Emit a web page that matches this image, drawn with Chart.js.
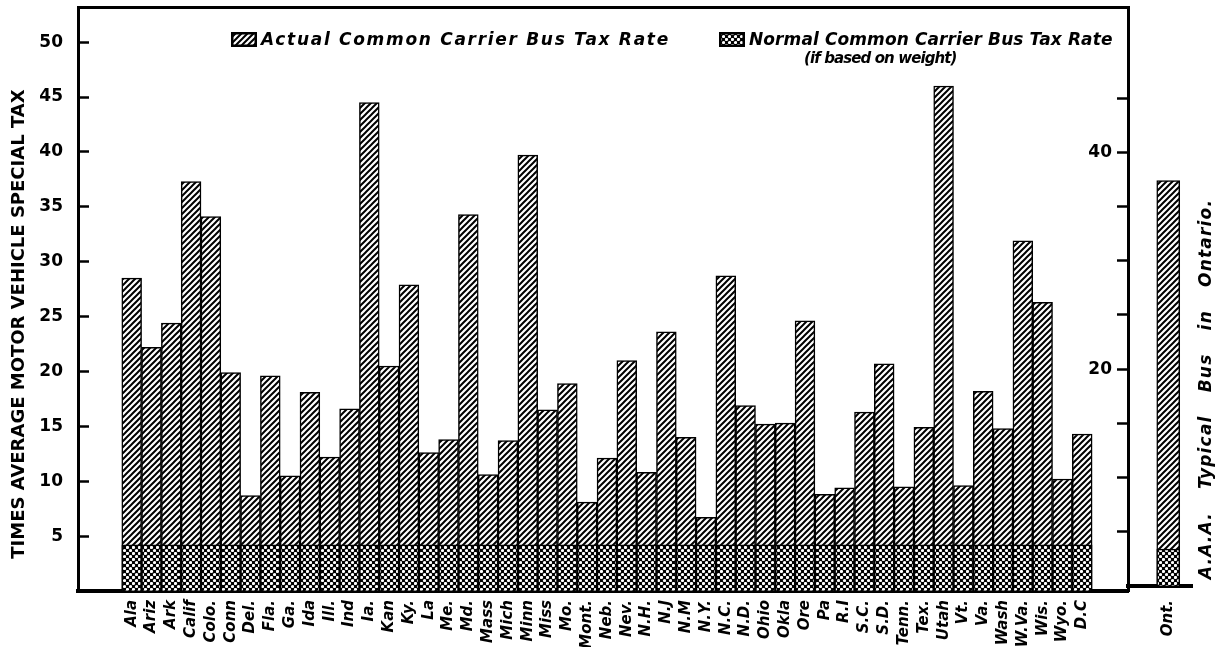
<!DOCTYPE html>
<html>
<head>
<meta charset="utf-8">
<title>Common Carrier Bus Tax Rates</title>
<script src="https://cdn.jsdelivr.net/npm/chart.js@4.4.1/dist/chart.umd.min.js"></script>
<style>
  html, body { margin: 0; padding: 0; background: #fff; }
  #wrap { position: relative; width: 1221px; height: 647px; overflow: hidden; }
  #mainChart { position: absolute; left: 0; top: 0; }
  #ontChart { position: absolute; left: 1060px; top: 0; }
  .legend-item { position: absolute; top: 29px; display: flex; align-items: flex-start;
                 font: italic bold 17px 'DejaVu Sans'; color: #000; white-space: nowrap; }
  .legend-item:nth-child(1) { left: 231px; letter-spacing: 1.7px; }
  .legend-item:nth-child(2) { left: 719px; letter-spacing: 0.1px; }
  .legend-item canvas { margin: 3px 4px 0 0; }
  .legend-note { display: block; margin-left: 55px; line-height: 18px;
                 font-size: 15px; letter-spacing: -0.9px; }
  #ontNote { position: absolute; left: 1006px; top: 378px; width: 400px; height: 22px;
             line-height: 22px; text-align: center; transform: rotate(-90deg);
             font: italic bold 17px 'DejaVu Sans'; letter-spacing: 1.2px; word-spacing: 16px; color: #000; }
</style>
</head>
<body>
<div id="wrap">
  <canvas id="mainChart" width="1221" height="647"></canvas>
  <canvas id="ontChart" width="161" height="647"></canvas>
  <div id="legend"></div>
  <div id="ontNote">A.A.A. Typical Bus in Ontario.</div>
</div>
<script>
// States, in the order they stand along the axis
const states = ['Ala', 'Ariz', 'Ark', 'Calif', 'Colo.', 'Conn', 'Del.', 'Fla.', 'Ga.', 'Ida', 'Ill.',
    'Ind', 'Ia.', 'Kan', 'Ky.', 'La', 'Me.', 'Md.', 'Mass', 'Mich', 'Minn', 'Miss', 'Mo.', 'Mont.',
    'Neb.', 'Nev.', 'N.H.', 'N.J', 'N.M', 'N.Y.', 'N.C.', 'N.D.', 'Ohio', 'Okla', 'Ore', 'Pa', 'R.I',
    'S.C.', 'S.D.', 'Tenn.', 'Tex.', 'Utah', 'Vt.', 'Va.', 'Wash', 'W.Va.', 'Wis.', 'Wyo.', 'D.C'];

// Times average motor vehicle special tax
const actualRate = [28.5, 22.2, 24.4, 37.3, 34.1, 19.9, 8.7, 19.6, 10.5, 18.1, 12.2,
    16.6, 44.5, 20.5, 27.9, 12.6, 13.8, 34.3, 10.6, 13.7, 39.7, 16.5, 18.9, 8.1,
    12.1, 21.0, 10.8, 23.6, 14.0, 6.7, 28.7, 16.9, 15.2, 15.3, 24.6, 8.8, 9.4,
    16.3, 20.7, 9.5, 14.9, 46.0, 9.6, 18.2, 14.8, 31.9, 26.3, 10.2, 14.3];

const normalRate = [4.2, 4.2, 4.2, 4.2, 4.2, 4.2, 4.2, 4.2, 4.2, 4.2, 4.2,
    4.2, 4.2, 4.2, 4.2, 4.2, 4.2, 4.2, 4.2, 4.2, 4.2, 4.2, 4.2, 4.2,
    4.2, 4.2, 4.2, 4.2, 4.2, 4.2, 4.2, 4.2, 4.2, 4.2, 4.2, 4.2, 4.2,
    4.2, 4.2, 4.2, 4.2, 4.2, 4.2, 4.2, 4.2, 4.2, 4.2, 4.2, 4.2];

// Ontario, on its own scale
const ontLabels = ['Ont.'];
const ontActual = [37.4];
const ontNormal = [3.4];

const leftTickLabels = [5, 10, 15, 20, 25, 30, 35, 40, 45, 50];
const rightTickLabels = [20, 40];
const rightTickMarks = [5, 10, 15, 20, 25, 30, 35, 40, 45];

const legendNotes = ['', '(if based on weight)'];

const BLACK = '#000';
const LABEL_FONT = { family: 'DejaVu Sans', size: 15, weight: 'bold', style: 'italic' };
const NUMBER_FONT = { family: 'DejaVu Sans', size: 17, weight: 'bold' };

// Hatch patterns
function makePattern(draw, size) {
    const c = document.createElement('canvas');
    c.width = size;
    c.height = size;
    draw(c.getContext('2d'), size);
    return c.getContext('2d').createPattern(c, 'repeat');
}

const diagonalHatch = makePattern((g, s) => {
    g.fillStyle = '#fff';
    g.fillRect(0, 0, s, s);
    g.strokeStyle = BLACK;
    g.lineWidth = 2;
    g.beginPath();
    g.moveTo(-1, s + 1); g.lineTo(s + 1, -1);
    g.moveTo(-1, 1); g.lineTo(1, -1);
    g.moveTo(s - 1, s + 1); g.lineTo(s + 1, s - 1);
    g.stroke();
}, 6);

const crossHatch = makePattern((g, s) => {
    g.fillStyle = BLACK;
    g.fillRect(0, 0, s, s);
    g.fillStyle = '#fff';
    [[1.5, 1.5], [4.5, 4.5]].forEach(([x, y]) => {
        g.beginPath();
        g.arc(x, y, 1.6, 0, Math.PI * 2);
        g.fill();
    });
}, 6);

// Axes keep the sizes given here; no extra padding for their labels
const fixSize = (width, height) => axis => {
    if (width !== null) axis.width = width;
    if (height !== null) axis.height = height;
    axis.paddingTop = 0;
    axis.paddingBottom = 0;
    axis.paddingLeft = 0;
    axis.paddingRight = 0;
};

// Legend built as html, from the chart's own legend items
const htmlLegendPlugin = {
    id: 'htmlLegend',
    afterUpdate(chart, args, options) {
        const box = document.getElementById(options.containerID);
        box.innerHTML = '';
        const items = chart.options.plugins.legend.labels.generateLabels(chart)
            .sort((a, b) => a.datasetIndex - b.datasetIndex);
        items.forEach((item, i) => {
            const el = document.createElement('div');
            el.className = 'legend-item';
            const sw = document.createElement('canvas');
            sw.width = 26;
            sw.height = 15;
            const g = sw.getContext('2d');
            g.fillStyle = item.fillStyle;
            g.fillRect(0, 0, 26, 15);
            g.strokeStyle = BLACK;
            g.lineWidth = 2.5;
            g.strokeRect(1.25, 1.25, 23.5, 12.5);
            el.appendChild(sw);
            const txt = document.createElement('span');
            txt.textContent = item.text;
            if (legendNotes[i]) {
                const note = document.createElement('span');
                note.className = 'legend-note';
                note.textContent = legendNotes[i];
                txt.appendChild(note);
            }
            el.appendChild(txt);
            box.appendChild(el);
        });
    }
};

const toPoints = values => values.map((v, i) => ({ x: i, y: v }));

new Chart(document.getElementById('mainChart'), {
    type: 'bar',
    data: {
        datasets: [{
            label: 'Actual Common Carrier Bus Tax Rate',
            data: toPoints(actualRate),
            backgroundColor: diagonalHatch,
            borderColor: BLACK,
            borderWidth: 1.5,
            barPercentage: 1,
            categoryPercentage: 1,
            grouped: false,
            order: 2,
            xAxisID: 'x',
            yAxisID: 'y'
        }, {
            label: 'Normal Common Carrier Bus Tax Rate',
            data: toPoints(normalRate),
            backgroundColor: crossHatch,
            borderColor: BLACK,
            borderWidth: 1.5,
            barPercentage: 1,
            categoryPercentage: 1,
            grouped: false,
            order: 1,
            xAxisID: 'x',
            yAxisID: 'y'
        }]
    },
    options: {
        responsive: false,
        animation: false,
        layout: { padding: { left: 0, right: 93, top: 7, bottom: 0 } },
        plugins: {
            legend: { display: false },
            tooltip: { enabled: false },
            htmlLegend: { containerID: 'legend' }
        },
        scales: {
            x: {
                type: 'linear',
                min: -2.17,
                max: 49.77,
                afterBuildTicks: axis => { axis.ticks = states.map((_, i) => ({ value: i })); },
                afterFit: fixSize(null, 56),
                grid: { display: false, drawTicks: false },
                border: { color: BLACK, width: 4 },
                ticks: {
                    autoSkip: false,
                    minRotation: 90,
                    maxRotation: 90,
                    padding: 9,
                    color: BLACK,
                    font: LABEL_FONT,
                    callback: v => states[v] ?? ''
                }
            },
            xTop: {
                type: 'linear',
                position: 'top',
                display: true,
                min: 0,
                max: 1,
                afterFit: fixSize(null, 0),
                grid: { display: false, drawTicks: false },
                ticks: { display: false },
                border: { color: BLACK, width: 3 }
            },
            y: {
                min: 0,
                max: 53.2,
                afterFit: fixSize(78, null),
                border: { color: BLACK, width: 3 },
                grid: {
                    drawOnChartArea: false,
                    tickLength: -11,
                    tickWidth: 2.5,
                    tickColor: ctx => leftTickLabels.includes(ctx.tick.value) ? BLACK : 'transparent'
                },
                ticks: {
                    stepSize: 5,
                    includeBounds: false,
                    padding: 26,
                    color: BLACK,
                    font: NUMBER_FONT,
                    callback: v => leftTickLabels.includes(v) ? String(v) : ''
                },
                title: {
                    display: true,
                    // trailing spaces push the lettering a little down the axis, as in the original
                    text: 'TIMES AVERAGE MOTOR VEHICLE SPECIAL TAX        ',
                    color: BLACK,
                    font: { family: 'DejaVu Sans', size: 18, weight: 'bold' },
                    padding: { top: 9 }
                }
            },
            yRight: {
                type: 'linear',
                position: 'right',
                display: true,
                min: 0,
                max: 1,
                afterFit: fixSize(0, null),
                grid: { display: false, drawTicks: false },
                ticks: { display: false },
                border: { color: BLACK, width: 3 }
            }
        }
    },
    plugins: [htmlLegendPlugin]
});

new Chart(document.getElementById('ontChart'), {
    type: 'bar',
    data: {
        datasets: [{
            label: 'Actual',
            data: toPoints(ontActual),
            backgroundColor: diagonalHatch,
            borderColor: BLACK,
            borderWidth: 1.5,
            barThickness: 23,
            grouped: false,
            order: 2
        }, {
            label: 'Normal',
            data: toPoints(ontNormal),
            backgroundColor: crossHatch,
            borderColor: BLACK,
            borderWidth: 1.5,
            barThickness: 23,
            grouped: false,
            order: 1
        }]
    },
    options: {
        responsive: false,
        animation: false,
        layout: { padding: { left: 0, right: 29, top: 7, bottom: 0 } },
        plugins: { legend: { display: false }, tooltip: { enabled: false } },
        scales: {
            x: {
                type: 'linear',
                min: -2,
                max: 0.64,
                afterBuildTicks: axis => { axis.ticks = ontLabels.map((_, i) => ({ value: i })); },
                afterFit: fixSize(null, 61),
                grid: { display: false, drawTicks: false },
                border: { color: BLACK, width: 4 },
                ticks: {
                    autoSkip: false,
                    minRotation: 90,
                    maxRotation: 90,
                    padding: 14,
                    color: BLACK,
                    font: LABEL_FONT,
                    callback: v => ontLabels[v] ?? ''
                }
            },
            y: {
                min: 0,
                max: 53.4,
                afterFit: fixSize(68, null),
                border: { color: BLACK, width: 3 },
                grid: {
                    drawOnChartArea: false,
                    tickLength: 11,
                    tickWidth: 2.5,
                    tickColor: ctx => rightTickMarks.includes(ctx.tick.value) ? BLACK : 'transparent'
                },
                ticks: {
                    stepSize: 5,
                    includeBounds: false,
                    padding: 5,
                    color: BLACK,
                    font: NUMBER_FONT,
                    callback: v => rightTickLabels.includes(v) ? String(v) : ''
                }
            }
        }
    }
});
</script>
</body>
</html>
